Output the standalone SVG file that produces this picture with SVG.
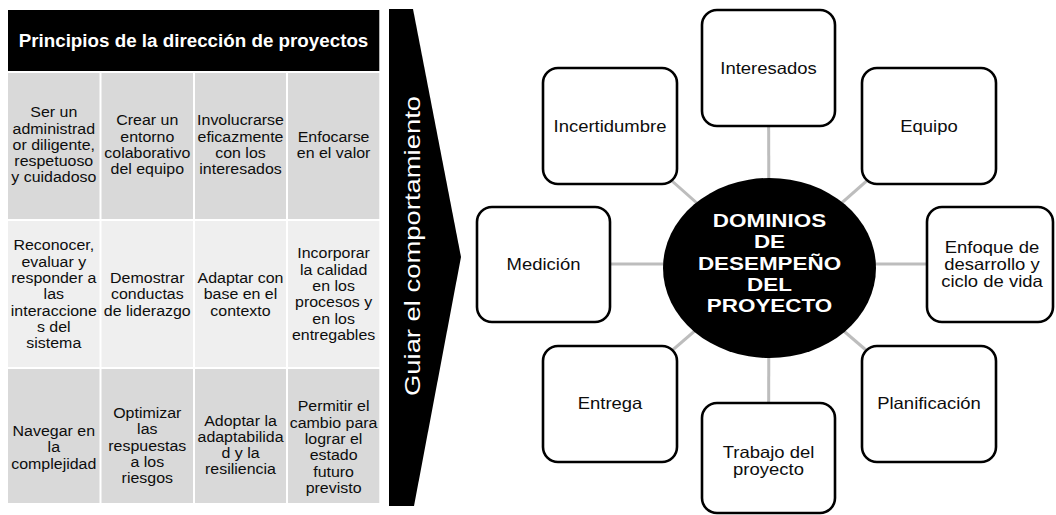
<svg xmlns="http://www.w3.org/2000/svg" width="1056" height="515" viewBox="0 0 1056 515">
  <style>
    text { font-family: "Liberation Sans", Arial, Helvetica, sans-serif; }
    .hdr { font-size: 18.8px; font-weight: bold; fill: #ffffff; text-anchor: middle; }
    .cell { font-size: 14.5px; fill: #0d0d0d; text-anchor: middle; }
    .band { fill: #000000; }
    .band-txt { font-size: 22px; fill: #ffffff; text-anchor: middle; }
    .rowA { fill: #d9d9d9; }
    .rowB { fill: #efefef; }
    .box { fill: #ffffff; stroke: #000000; stroke-width: 2.6; }
    .lbl { font-size: 16.5px; fill: #0d0d0d; text-anchor: middle; }
    .hub { fill: #000000; }
    .hub-txt { font-size: 19px; font-weight: bold; fill: #ffffff; text-anchor: middle; }
    .conn { stroke: #bdbdbd; stroke-width: 3; fill: none; }
  </style>

  <rect width="1056" height="515" fill="#ffffff"/>

  <!-- Principles table -->
  <g id="principles-table">
    <rect x="8" y="10" width="371.3" height="61" fill="#000000"/>
    <text class="hdr" x="193.5" y="47">Principios de la dirección de proyectos</text>

    <!-- row 1 -->
    <rect class="rowA" x="8" y="73" width="91.5" height="146"/>
    <rect class="rowA" x="101.5" y="73" width="91.5" height="146"/>
    <rect class="rowA" x="195" y="73" width="91" height="146"/>
    <rect class="rowA" x="288" y="73" width="91.3" height="146"/>
    <!-- row 2 -->
    <rect class="rowB" x="8" y="221" width="91.5" height="146"/>
    <rect class="rowB" x="101.5" y="221" width="91.5" height="146"/>
    <rect class="rowB" x="195" y="221" width="91" height="146"/>
    <rect class="rowB" x="288" y="221" width="91.3" height="146"/>
    <!-- row 3 -->
    <rect class="rowA" x="8" y="369" width="91.5" height="134"/>
    <rect class="rowA" x="101.5" y="369" width="91.5" height="134"/>
    <rect class="rowA" x="195" y="369" width="91" height="134"/>
    <rect class="rowA" x="288" y="369" width="91.3" height="134"/>

    <g transform="translate(53.8,0) scale(1.1,1)">
      <text class="cell" x="0" y="117.3">Ser un<tspan x="0" y="133.6">administrad</tspan><tspan x="0" y="149.9">or diligente,</tspan><tspan x="0" y="166.2">respetuoso</tspan><tspan x="0" y="182.5">y cuidadoso</tspan></text>
    </g>
    <g transform="translate(147.3,0) scale(1.1,1)">
      <text class="cell" x="0" y="125.5">Crear un<tspan x="0" y="141.8">entorno</tspan><tspan x="0" y="158.1">colaborativo</tspan><tspan x="0" y="174.4">del equipo</tspan></text>
    </g>
    <g transform="translate(240.5,0) scale(1.1,1)">
      <text class="cell" x="0" y="125.5">Involucrarse<tspan x="0" y="141.8">eficazmente</tspan><tspan x="0" y="158.1">con los</tspan><tspan x="0" y="174.4">interesados</tspan></text>
    </g>
    <g transform="translate(333.6,0) scale(1.1,1)">
      <text class="cell" x="0" y="141.8">Enfocarse<tspan x="0" y="158.1">en el valor</tspan></text>
    </g>

    <g transform="translate(53.8,0) scale(1.1,1)">
      <text class="cell" x="0" y="250.4">Reconocer,<tspan x="0" y="266.7">evaluar y</tspan><tspan x="0" y="283">responder a</tspan><tspan x="0" y="299.3">las</tspan><tspan x="0" y="315.6">interaccione</tspan><tspan x="0" y="331.9">s del</tspan><tspan x="0" y="348.2">sistema</tspan></text>
    </g>
    <g transform="translate(147.3,0) scale(1.1,1)">
      <text class="cell" x="0" y="283">Demostrar<tspan x="0" y="299.3">conductas</tspan><tspan x="0" y="315.6">de liderazgo</tspan></text>
    </g>
    <g transform="translate(240.5,0) scale(1.1,1)">
      <text class="cell" x="0" y="283">Adaptar con<tspan x="0" y="299.3">base en el</tspan><tspan x="0" y="315.6">contexto</tspan></text>
    </g>
    <g transform="translate(333.6,0) scale(1.1,1)">
      <text class="cell" x="0" y="258.5">Incorporar<tspan x="0" y="274.8">la calidad</tspan><tspan x="0" y="291.1">en los</tspan><tspan x="0" y="307.4">procesos y</tspan><tspan x="0" y="323.7">en los</tspan><tspan x="0" y="340">entregables</tspan></text>
    </g>

    <g transform="translate(53.8,0) scale(1.1,1)">
      <text class="cell" x="0" y="436">Navegar en<tspan x="0" y="452.3">la</tspan><tspan x="0" y="468.6">complejidad</tspan></text>
    </g>
    <g transform="translate(147.3,0) scale(1.1,1)">
      <text class="cell" x="0" y="418">Optimizar<tspan x="0" y="434.3">las</tspan><tspan x="0" y="450.6">respuestas</tspan><tspan x="0" y="466.9">a los</tspan><tspan x="0" y="483.2">riesgos</tspan></text>
    </g>
    <g transform="translate(240.5,0) scale(1.1,1)">
      <text class="cell" x="0" y="425.5">Adoptar la<tspan x="0" y="441.8">adaptabilida</tspan><tspan x="0" y="458.1">d y la</tspan><tspan x="0" y="474.4">resiliencia</tspan></text>
    </g>
    <g transform="translate(333.6,0) scale(1.1,1)">
      <text class="cell" x="0" y="411.5">Permitir el<tspan x="0" y="427.8">cambio para</tspan><tspan x="0" y="444.1">lograr el</tspan><tspan x="0" y="460.4">estado</tspan><tspan x="0" y="476.7">futuro</tspan><tspan x="0" y="493">previsto</tspan></text>
    </g>
  </g>

  <!-- Chevron band -->
  <g id="behaviour-band">
    <polygon class="band" points="389,9 413,9 461,257 414,506 389,506"/>
    <text class="band-txt" transform="translate(419.5,246) rotate(-90)" x="0" y="0" textLength="300" lengthAdjust="spacingAndGlyphs">Guiar el comportamiento</text>
  </g>

  <!-- Connectors -->
  <g id="connectors">
    <line class="conn" x1="769" y1="267" x2="768.5" y2="68"/>
    <line class="conn" x1="769" y1="267" x2="929" y2="126"/>
    <line class="conn" x1="769" y1="264" x2="990" y2="264"/>
    <line class="conn" x1="769" y1="267" x2="929" y2="404"/>
    <line class="conn" x1="769" y1="267" x2="768.5" y2="460"/>
    <line class="conn" x1="769" y1="267" x2="610" y2="404"/>
    <line class="conn" x1="769" y1="264" x2="543" y2="264"/>
    <line class="conn" x1="769" y1="267" x2="610" y2="126"/>
  </g>

  <!-- Performance domains -->
  <g id="node-interesados">
    <rect class="box" x="702" y="10" width="133" height="116" rx="15"/>
    <g transform="translate(768.5,0) scale(1.12,1)"><text class="lbl" x="0" y="74">Interesados</text></g>
  </g>
  <g id="node-equipo">
    <rect class="box" x="862" y="68" width="134" height="116" rx="15"/>
    <g transform="translate(929,0) scale(1.12,1)"><text class="lbl" x="0" y="132">Equipo</text></g>
  </g>
  <g id="node-enfoque">
    <rect class="box" x="927" y="207" width="126" height="115" rx="15"/>
    <g transform="translate(992,0) scale(1.12,1)"><text class="lbl" x="0" y="253.5">Enfoque de<tspan x="0" y="270.5">desarrollo y</tspan><tspan x="0" y="287.5">ciclo de vida</tspan></text></g>
  </g>
  <g id="node-planificacion">
    <rect class="box" x="862" y="346" width="134" height="116" rx="15"/>
    <g transform="translate(929,0) scale(1.12,1)"><text class="lbl" x="0" y="409.5">Planificación</text></g>
  </g>
  <g id="node-trabajo">
    <rect class="box" x="702" y="403" width="133" height="110" rx="15"/>
    <g transform="translate(768.5,0) scale(1.12,1)"><text class="lbl" x="0" y="458">Trabajo del<tspan x="0" y="475.5">proyecto</tspan></text></g>
  </g>
  <g id="node-entrega">
    <rect class="box" x="543" y="346" width="134" height="116" rx="15"/>
    <g transform="translate(610,0) scale(1.12,1)"><text class="lbl" x="0" y="409.5">Entrega</text></g>
  </g>
  <g id="node-medicion">
    <rect class="box" x="477" y="207" width="133" height="115" rx="15"/>
    <g transform="translate(543.5,0) scale(1.12,1)"><text class="lbl" x="0" y="270">Medición</text></g>
  </g>
  <g id="node-incertidumbre">
    <rect class="box" x="543" y="68" width="134" height="116" rx="15"/>
    <g transform="translate(610,0) scale(1.12,1)"><text class="lbl" x="0" y="132">Incertidumbre</text></g>
  </g>

  <g id="node-dominios">
    <ellipse class="hub" cx="769.5" cy="268" rx="106.5" ry="90"/>
    <g transform="translate(769.5,0) scale(1.18,1)">
      <text class="hub-txt" x="0" y="227">DOMINIOS<tspan x="0" y="248.3">DE</tspan><tspan x="0" y="269.6">DESEMPEÑO</tspan><tspan x="0" y="290.9">DEL</tspan><tspan x="0" y="312.2">PROYECTO</tspan></text>
    </g>
  </g>
</svg>
